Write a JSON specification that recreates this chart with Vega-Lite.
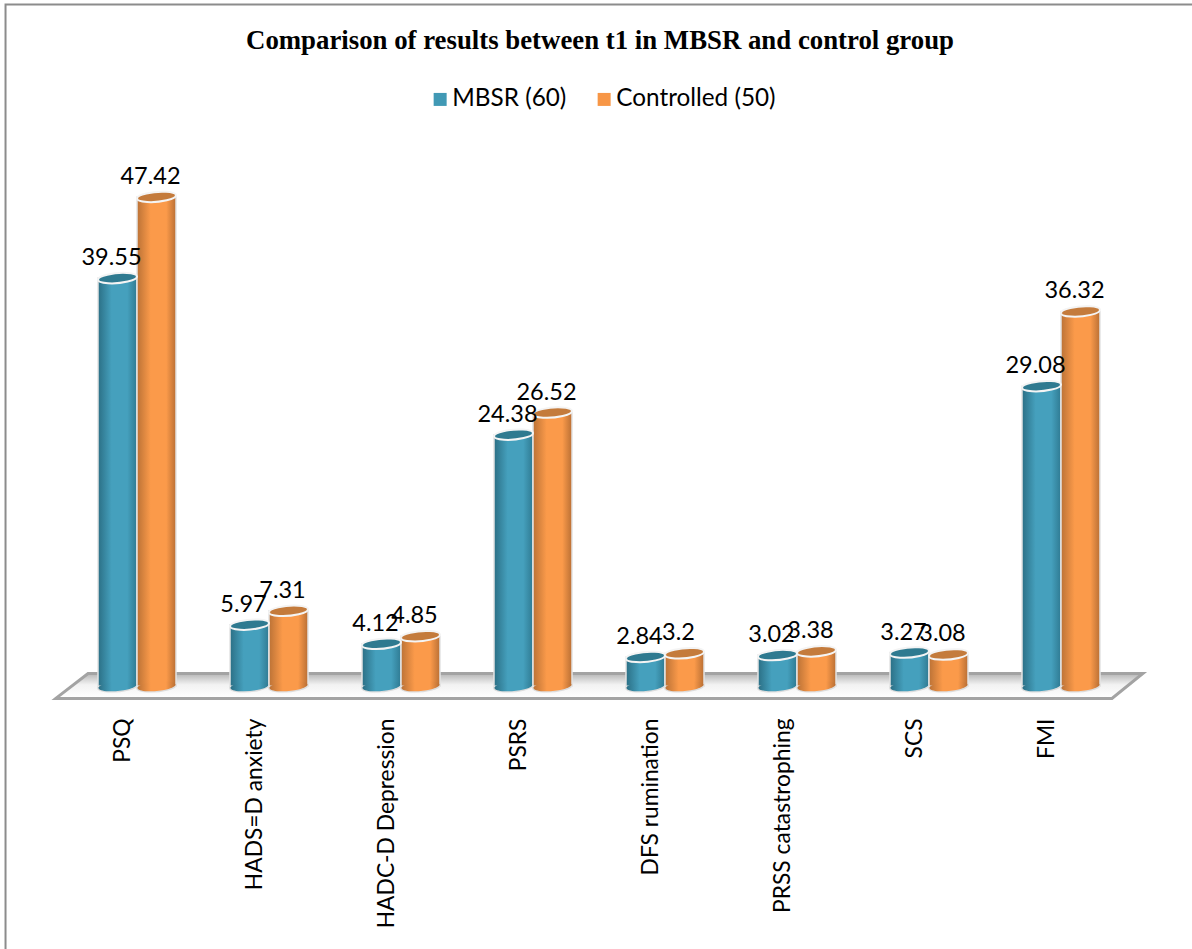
{
  "$schema": "https://vega.github.io/schema/vega-lite/v6.json",
  "width": 1192,
  "height": 949,
  "padding": 0,
  "autosize": "none",
  "background": "white",
  "config": {"view": {"stroke": null}},
  "title": {
    "text": "Comparison of results between t1 in MBSR and control group",
    "font": "Liberation Serif",
    "fontSize": 26.8,
    "fontWeight": "bold",
    "color": "black",
    "anchor": "middle",
    "frame": "group",
    "baseline": "alphabetic",
    "dx": 4,
    "offset": -76
  },
  "datasets": {
    "scores": [
      {"measure": "PSQ", "group": "MBSR (60)", "mean": 39.55},
      {"measure": "PSQ", "group": "Controlled (50)", "mean": 47.42},
      {"measure": "HADS=D anxiety", "group": "MBSR (60)", "mean": 5.97},
      {"measure": "HADS=D anxiety", "group": "Controlled (50)", "mean": 7.31},
      {"measure": "HADC-D Depression", "group": "MBSR (60)", "mean": 4.12},
      {"measure": "HADC-D Depression", "group": "Controlled (50)", "mean": 4.85},
      {"measure": "PSRS", "group": "MBSR (60)", "mean": 24.38},
      {"measure": "PSRS", "group": "Controlled (50)", "mean": 26.52},
      {"measure": "DFS rumination", "group": "MBSR (60)", "mean": 2.84},
      {"measure": "DFS rumination", "group": "Controlled (50)", "mean": 3.2},
      {"measure": "PRSS catastrophing", "group": "MBSR (60)", "mean": 3.02},
      {"measure": "PRSS catastrophing", "group": "Controlled (50)", "mean": 3.38},
      {"measure": "SCS", "group": "MBSR (60)", "mean": 3.27},
      {"measure": "SCS", "group": "Controlled (50)", "mean": 3.08},
      {"measure": "FMI", "group": "MBSR (60)", "mean": 29.08},
      {"measure": "FMI", "group": "Controlled (50)", "mean": 36.32}
    ],
    "floor": [
      {"pos": -0.615, "back": -1.18, "front": -1.18},
      {"pos": -0.371, "back": 1.24, "front": -1.18},
      {"pos": 7.386, "back": 1.24, "front": -1.18},
      {"pos": 7.62, "back": 1.24, "front": 1.24}
    ],
    "frame": [
      {"pos": -0.996, "level": -25.46, "step": 1},
      {"pos": -0.996, "level": 66.07, "step": 2},
      {"pos": 7.9924, "level": 66.07, "step": 3}
    ]
  },
  "resolve": {"scale": {"x": "independent"}},
  "layer": [
    {
      "description": "Chart frame along the left and top edges",
      "data": {"name": "frame"},
      "mark": {"type": "line", "stroke": "#8c8c8c", "strokeWidth": 2},
      "encoding": {
        "x": {"field": "pos", "type": "quantitative", "axis": null, "scale": {"domain": [-1.0379, 7.9924], "nice": false, "zero": false}},
        "y": {"field": "level", "type": "quantitative", "axis": null, "scale": {"domain": [-25.46, 66.5], "nice": false, "zero": false}},
        "order": {"field": "step"}
      }
    },
    {
      "description": "Tilted 3D floor under the columns",
      "data": {"name": "floor"},
      "mark": {
        "type": "area",
        "stroke": "#a3a3a3",
        "strokeWidth": 3,
        "fill": {
          "gradient": "linear", "x1": 0, "y1": 0, "x2": 0, "y2": 1,
          "stops": [
            {"offset": 0, "color": "#b5b5b5"},
            {"offset": 0.45, "color": "#f2f2f2"},
            {"offset": 1, "color": "#ffffff"}
          ]
        }
      },
      "encoding": {
        "x": {"field": "pos", "type": "quantitative", "axis": null, "scale": {"domain": [-1.0379, 7.9924], "nice": false, "zero": false}},
        "y": {"field": "back", "type": "quantitative", "axis": null, "scale": {"domain": [-25.46, 66.5], "nice": false, "zero": false}},
        "y2": {"field": "front"}
      }
    },
    {
      "description": "Cylinder columns with labels",
      "data": {"name": "scores"},
      "encoding": {
        "x": {
          "field": "measure",
          "type": "nominal",
          "sort": null,
          "title": null,
          "scale": {"range": [71, 1127], "paddingInner": 0.409, "paddingOuter": 0.2045},
          "axis": {
            "orient": "bottom",
            "offset": -231,
            "domain": false,
            "ticks": false,
            "grid": false,
            "labelAngle": -90,
            "labelAlign": "right",
            "labelBaseline": "middle",
            "labelOffset": -14,
            "labelPadding": 0,
            "labelFont": "Lato",
            "labelFontSize": 22.8,
            "labelColor": "black",
            "labelLimit": 400,
            "labelBound": false,
            "labelOverlap": false
          }
        },
        "xOffset": {"field": "group", "type": "nominal", "scale": {"domain": ["MBSR (60)", "Controlled (50)"]}},
        "y": {"field": "mean", "type": "quantitative", "stack": null, "axis": null, "scale": {"domain": [-25.46, 66.5], "nice": false, "zero": false}}
      },
      "layer": [
        {
          "description": "Rounded column bases, which also carry the legend colours",
          "mark": {"type": "point", "filled": true, "opacity": 1, "shape": "M-0.996,0.087A1,0.25,-5,1,1,0.996,-0.087A1,0.25,-5,1,1,-0.996,0.087Z", "size": 1521, "stroke": "#dcdcdc", "strokeWidth": 2},
          "encoding": {
            "y": {"datum": 0},
            "color": {
              "field": "group",
              "type": "nominal",
              "scale": {"domain": ["MBSR (60)", "Controlled (50)"], "range": ["#4199b5", "#f79646"]},
              "legend": {
                "title": null,
                "orient": "none",
                "legendX": 428,
                "legendY": 87,
                "direction": "horizontal",
                "symbolType": "square",
                "symbolSize": 169,
                "symbolStrokeWidth": 0,
                "symbolOpacity": 1,
                "labelFont": "Lato",
                "labelFontSize": 24.3,
                "labelColor": "black",
                "labelLimit": 300,
                "labelOffset": 0,
                "columnPadding": 25
              }
            }
          }
        },
        {
          "transform": [{"filter": "datum.group === 'MBSR (60)'"}],
          "mark": {
            "type": "bar", "stroke": "#e4e4e4", "strokeWidth": 1.5,
            "fill": {"gradient": "linear", "x1": 0, "y1": 0, "x2": 1, "y2": 0, "stops": [
              {"offset": 0, "color": "#2b6f85"},
              {"offset": 0.35, "color": "#45a0bd"},
              {"offset": 0.75, "color": "#45a0bd"},
              {"offset": 1, "color": "#2f7a92"}
            ]}
          }
        },
        {
          "transform": [{"filter": "datum.group === 'MBSR (60)'"}],
          "mark": {
            "type": "point", "filled": true, "opacity": 1, "size": 1444, "strokeWidth": 0,
            "shape": "M-0.996,0.087A1,0.25,-5,1,1,0.996,-0.087A1,0.25,-5,1,1,-0.996,0.087Z",
            "fill": {"gradient": "linear", "x1": 0, "y1": 0, "x2": 1, "y2": 0, "stops": [
              {"offset": 0, "color": "#2b6f85"},
              {"offset": 0.35, "color": "#45a0bd"},
              {"offset": 0.75, "color": "#45a0bd"},
              {"offset": 1, "color": "#2f7a92"}
            ]}
          },
          "encoding": {"y": {"datum": 0}}
        },
        {
          "transform": [{"filter": "datum.group === 'Controlled (50)'"}],
          "mark": {
            "type": "bar", "stroke": "#e4e4e4", "strokeWidth": 1.5,
            "fill": {"gradient": "linear", "x1": 0, "y1": 0, "x2": 1, "y2": 0, "stops": [
              {"offset": 0, "color": "#bb7236"},
              {"offset": 0.35, "color": "#fb9a4a"},
              {"offset": 0.75, "color": "#fb9a4a"},
              {"offset": 1, "color": "#b96f34"}
            ]}
          }
        },
        {
          "transform": [{"filter": "datum.group === 'Controlled (50)'"}],
          "mark": {
            "type": "point", "filled": true, "opacity": 1, "size": 1444, "strokeWidth": 0,
            "shape": "M-0.996,0.087A1,0.25,-5,1,1,0.996,-0.087A1,0.25,-5,1,1,-0.996,0.087Z",
            "fill": {"gradient": "linear", "x1": 0, "y1": 0, "x2": 1, "y2": 0, "stops": [
              {"offset": 0, "color": "#bb7236"},
              {"offset": 0.35, "color": "#fb9a4a"},
              {"offset": 0.75, "color": "#fb9a4a"},
              {"offset": 1, "color": "#b96f34"}
            ]}
          },
          "encoding": {"y": {"datum": 0}}
        },
        {
          "description": "Darker elliptical column tops",
          "mark": {"type": "point", "opacity": 1, "shape": "M-0.996,0.087A1,0.25,-5,1,1,0.996,-0.087A1,0.25,-5,1,1,-0.996,0.087Z", "size": 1521, "stroke": "#f4f4f4", "strokeWidth": 2},
          "encoding": {
            "fill": {
              "field": "group",
              "type": "nominal",
              "legend": null,
              "scale": {"domain": ["MBSR (60)", "Controlled (50)"], "range": ["#2f7a90", "#c47b3c"]}
            }
          }
        },
        {
          "mark": {"type": "text", "font": "Lato", "fontSize": 23.5, "align": "center", "baseline": "middle", "dx": -6, "dy": -20, "color": "black"},
          "encoding": {"text": {"field": "mean", "type": "nominal"}}
        }
      ]
    }
  ]
}
